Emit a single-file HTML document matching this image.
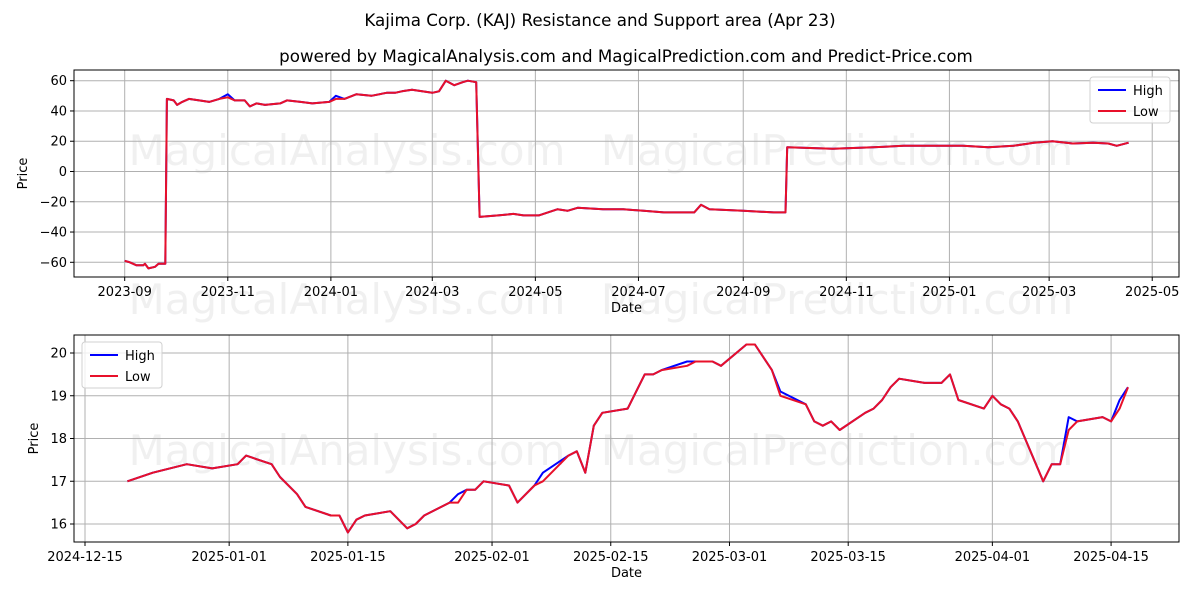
<!DOCTYPE html>
<html><head><meta charset="utf-8">
<style>
body{margin:0;background:#fff;}
svg{display:block;font-family:"DejaVu Sans","Liberation Sans",sans-serif;}
</style></head>
<body>
<svg id="chart" width="1200" height="600" viewBox="0 0 1200 600">
<text x="600" y="26" text-anchor="middle" font-size="16.7" fill="#000">Kajima Corp. (KAJ) Resistance and Support area (Apr 23)</text>
<text x="626" y="62" text-anchor="middle" font-size="16.7" fill="#000">powered by MagicalAnalysis.com and MagicalPrediction.com and Predict-Price.com</text>
<g id="top"></g>
<g id="bot"></g>
</svg>
<script>
const topDates=["2023-09-01","2023-09-04","2023-09-08","2023-09-12","2023-09-13","2023-09-15","2023-09-19","2023-09-21","2023-09-25","2023-09-26","2023-09-30","2023-10-02","2023-10-05","2023-10-09","2023-10-15","2023-10-21","2023-10-27","2023-11-01","2023-11-05","2023-11-11","2023-11-14","2023-11-18","2023-11-23","2023-12-02","2023-12-06","2023-12-14","2023-12-21","2023-12-31","2024-01-04","2024-01-09","2024-01-16","2024-01-25","2024-02-03","2024-02-08","2024-02-12","2024-02-18","2024-02-24","2024-03-01","2024-03-05","2024-03-09","2024-03-14","2024-03-19","2024-03-22","2024-03-27","2024-03-29","2024-04-09","2024-04-18","2024-04-24","2024-05-03","2024-05-14","2024-05-20","2024-05-26","2024-06-10","2024-06-22","2024-07-04","2024-07-16","2024-08-03","2024-08-07","2024-08-12","2024-09-01","2024-09-19","2024-09-26","2024-09-27","2024-10-24","2024-11-17","2024-12-05","2025-01-09","2025-01-24","2025-02-08","2025-02-20","2025-03-03","2025-03-15","2025-03-27","2025-04-05","2025-04-10","2025-04-17"];
const topLow=[-59,-60,-62,-62,-61,-64,-63,-61,-61,48,47,44,46,48,47,46,48,49,47,47,43,45,44,45,47,46,45,46,48,48,51,50,52,52,53,54,53,52,53,60,57,59,60,59,-30,-29,-28,-29,-29,-25,-26,-24,-25,-25,-26,-27,-27,-22,-25,-26,-27,-27,16,15,16,17,17,16,17,19,20,18.5,19,18.5,17,19];
const topHigh=[-59,-60,-62,-62,-61,-64,-63,-61,-61,48,47,44,46,48,47,46,48,51,47,47,43,45,44,45,47,46,45,46,50,48,51,50,52,52,53,54,53,52,53,60,57,59,60,59,-30,-29,-28,-29,-29,-25,-26,-24,-25,-25,-26,-27,-27,-22,-25,-26,-27,-27,16,15,16,17,17,16,17,19,20,18.5,19,18.5,17,19];
const topYTicks=[60,40,20,0,-20,-40,-60];
const topXTicks=["2023-09","2023-11","2024-01","2024-03","2024-05","2024-07","2024-09","2024-11","2025-01","2025-03","2025-05"];

const botDates=["2024-12-20","2024-12-23","2024-12-27","2024-12-30","2025-01-02","2025-01-03","2025-01-06","2025-01-07","2025-01-09","2025-01-10","2025-01-13","2025-01-14","2025-01-15","2025-01-16","2025-01-17","2025-01-20","2025-01-22","2025-01-23","2025-01-24","2025-01-27","2025-01-28","2025-01-29","2025-01-30","2025-01-31","2025-02-03","2025-02-04","2025-02-06","2025-02-07","2025-02-10","2025-02-11","2025-02-12","2025-02-13","2025-02-14","2025-02-17","2025-02-19","2025-02-20","2025-02-21","2025-02-24","2025-02-25","2025-02-27","2025-02-28","2025-03-03","2025-03-04","2025-03-06","2025-03-07","2025-03-10","2025-03-11","2025-03-12","2025-03-13","2025-03-14","2025-03-17","2025-03-18","2025-03-19","2025-03-20","2025-03-21","2025-03-24","2025-03-26","2025-03-27","2025-03-28","2025-03-31","2025-04-01","2025-04-02","2025-04-03","2025-04-04","2025-04-07","2025-04-08","2025-04-09","2025-04-10","2025-04-11","2025-04-14","2025-04-15","2025-04-16","2025-04-17"];
const botLow=[17.0,17.2,17.4,17.3,17.4,17.6,17.4,17.1,16.7,16.4,16.2,16.2,15.8,16.1,16.2,16.3,15.9,16.0,16.2,16.5,16.5,16.8,16.8,17.0,16.9,16.5,16.9,17.0,17.6,17.7,17.2,18.3,18.6,18.7,19.5,19.5,19.6,19.7,19.8,19.8,19.7,20.2,20.2,19.6,19.0,18.8,18.4,18.3,18.4,18.2,18.6,18.7,18.9,19.2,19.4,19.3,19.3,19.5,18.9,18.7,19.0,18.8,18.7,18.4,17.0,17.4,17.4,18.2,18.4,18.5,18.4,18.7,19.2];
const botHigh=[17.0,17.2,17.4,17.3,17.4,17.6,17.4,17.1,16.7,16.4,16.2,16.2,15.8,16.1,16.2,16.3,15.9,16.0,16.2,16.5,16.7,16.8,16.8,17.0,16.9,16.5,16.9,17.2,17.6,17.7,17.2,18.3,18.6,18.7,19.5,19.5,19.6,19.8,19.8,19.8,19.7,20.2,20.2,19.6,19.1,18.8,18.4,18.3,18.4,18.2,18.6,18.7,18.9,19.2,19.4,19.3,19.3,19.5,18.9,18.7,19.0,18.8,18.7,18.4,17.0,17.4,17.4,18.5,18.4,18.5,18.4,18.9,19.2];
const botYTicks=[20,19,18,17,16];
const botXTicks=["2024-12-15","2025-01-01","2025-01-15","2025-02-01","2025-02-15","2025-03-01","2025-03-15","2025-04-01","2025-04-15"];

const NS="http://www.w3.org/2000/svg";
function el(parent,tag,attrs,text){const e=document.createElementNS(NS,tag);for(const k in attrs)e.setAttribute(k,attrs[k]);if(text!==undefined)e.textContent=text;parent.appendChild(e);return e;}
function day(s){const p=s.split("-");return Date.UTC(+p[0],+p[1]-1,p[2]?+p[2]:1)/86400000;}

function panel(g,cfg){
  const L=74,R=1179,T=cfg.top,B=cfg.bottom;
  const sx=d=>cfg.x0+(day(d)-day(cfg.d0))*cfg.pxPerDay;
  const sy=v=>cfg.yA+(v-cfg.vA)*(cfg.yB-cfg.yA)/(cfg.vB-cfg.vA);
  cfg.wm.forEach(w=>{
    const t=el(g,"text",{x:w[1],y:w[2],"text-anchor":"middle","font-size":"42",fill:"#000","fill-opacity":"0.06"},w[0]);
    
    
  });
  cfg.xt.forEach(d=>{const x=sx(d);
    const l=el(g,"line",{x1:x,x2:x,y1:T,y2:B,stroke:"#b0b0b0","stroke-width":"1"});
    
    
    el(g,"line",{x1:x,x2:x,y1:B,y2:B+4,stroke:"#000"});
    const t=el(g,"text",{x:x,y:B+19,"text-anchor":"middle","font-size":"13",fill:"#000"},d);
    
    
  });
  cfg.yt.forEach(v=>{const y=sy(v);
    const l=el(g,"line",{x1:L,x2:R,y1:y,y2:y,stroke:"#b0b0b0","stroke-width":"1"});
    
    
    el(g,"line",{x1:L-4,x2:L,y1:y,y2:y,stroke:"#000"});
    const t=el(g,"text",{x:L-7,y:y+4.5,"text-anchor":"end","font-size":"13",fill:"#000"},String(v).replace("-","\u2212"));
    
    
  });
  const pts=(ds,vs)=>ds.map((d,i)=>sx(d).toFixed(1)+","+sy(vs[i]).toFixed(1)).join(" ");
  const h=el(g,"polyline",{points:pts(cfg.dates,cfg.high),fill:"none",stroke:"#0000ff","stroke-width":"2","stroke-linejoin":"round"});
  
  
  const lo=el(g,"polyline",{points:pts(cfg.dates,cfg.low),fill:"none",stroke:"#e8102a","stroke-width":"2","stroke-linejoin":"round"});
  
  
  const fr=el(g,"rect",{x:L,y:T,width:R-L,height:B-T,fill:"none",stroke:"#000","stroke-width":"1"});
  
  
  const xl=el(g,"text",{x:(L+R)/2,y:B+35,"text-anchor":"middle","font-size":"13",fill:"#000"},"Date");
  
  
  const yl=el(g,"text",{x:0,y:0,"text-anchor":"middle","font-size":"13",fill:"#000",transform:"translate("+cfg.ylx+","+(T+B)/2+") rotate(-90)"},"Price");
  
  
  const lx=cfg.lx,ly=cfg.ly;
  const lg=el(g,"g",{});
  
  
  el(lg,"rect",{x:lx,y:ly,width:80,height:46,rx:3,fill:"#fff","fill-opacity":"0.8",stroke:"#d0d0d0"});
  [["High","#0000ff"],["Low","#e8102a"]].forEach((e,i)=>{
    const ey=ly+13+i*21;
    const item=el(lg,"g",{});
    
    
    el(item,"line",{x1:lx+8,x2:lx+36,y1:ey,y2:ey,stroke:e[1],"stroke-width":"2"});
    el(item,"text",{x:lx+43,y:ey+5,"font-size":"13",fill:"#000"},e[0]);
  });
}

panel(document.getElementById("top"),{top:70,bottom:277,x0:124.7,d0:"2023-09-01",pxPerDay:1.690,
  yA:80.7,vA:60,yB:262.3,vB:-60,xt:topXTicks,yt:topYTicks,dates:topDates,low:topLow,high:topHigh,
  ylx:27,lx:1090,ly:77,wm:[["MagicalAnalysis.com",347,165],["MagicalPrediction.com",837,165],["MagicalAnalysis.com",347,314],["MagicalPrediction.com",837,314]]});
panel(document.getElementById("bot"),{top:335,bottom:542,x0:85,d0:"2024-12-15",pxPerDay:8.48,
  yA:353,vA:20,yB:524,vB:16,xt:botXTicks,yt:botYTicks,dates:botDates,low:botLow,high:botHigh,
  ylx:38,lx:82,ly:342,wm:[["MagicalAnalysis.com",347,465],["MagicalPrediction.com",837,465]]});
</script>
</body></html>
